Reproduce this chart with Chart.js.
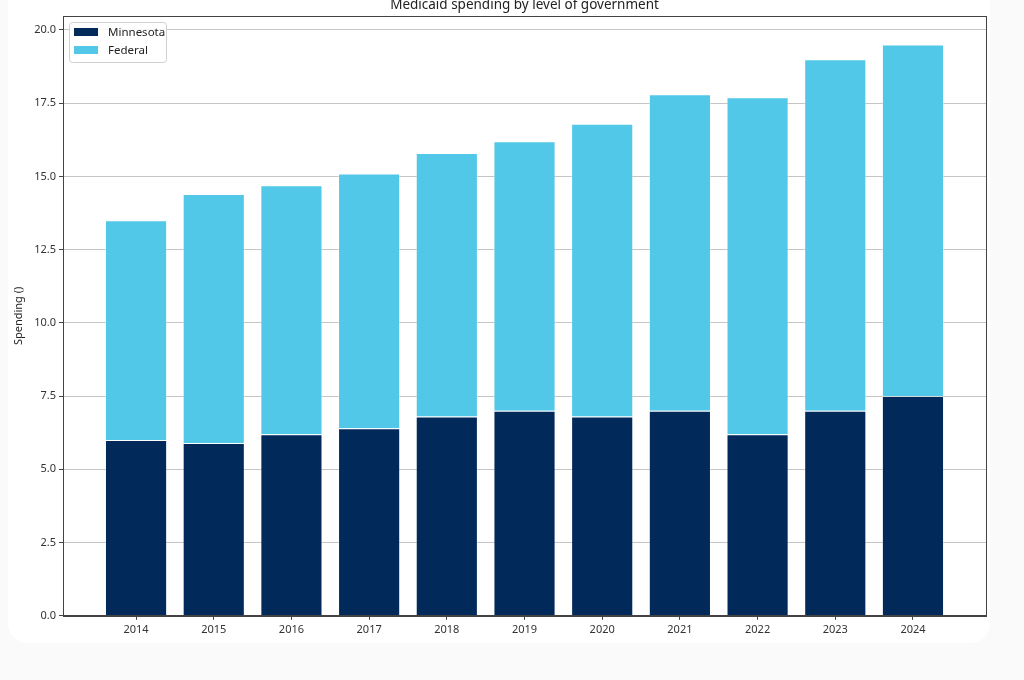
<!DOCTYPE html>
<html>
<head>
<meta charset="utf-8">
<script src="https://cdn.jsdelivr.net/npm/chart.js@4/dist/chart.umd.min.js"></script>
<style>
    html, body { margin: 0; padding: 0; background: #fafafa; overflow: hidden; }
    .card {
        position: absolute; left: 8px; top: -20px; width: 982px; height: 663px;
        background: #fff; border-radius: 20px;
    }
    .chart-box { position: absolute; left: 8px; top: 0; width: 982px; height: 643px; }
</style>
</head>
<body>
<div class="card"></div>
<div class="chart-box"><canvas id="spendingChart"></canvas></div>
<script>
const chartTitle = 'Medicaid spending by level of government';
const years = ['2014', '2015', '2016', '2017', '2018', '2019', '2020', '2021', '2022', '2023', '2024'];
const minnesotaSpending = [6.0, 5.9, 6.2, 6.4, 6.8, 7.0, 6.8, 7.0, 6.2, 7.0, 7.5];
const federalSpending = [7.5, 8.5, 8.5, 8.7, 9.0, 9.2, 10.0, 10.8, 11.5, 12.0, 12.0];
const yTicks = [0, 2.5, 5, 7.5, 10, 12.5, 15, 17.5, 20];

const fontFamily = '"Noto Sans", "DejaVu Sans", sans-serif';

// Title centred on the plot, legend inside the top-left corner and a box round the axes
const framePlugin = {
    id: 'frame',
    afterDraw(chart) {
        const ctx = chart.ctx;
        const area = chart.chartArea;

        ctx.save();
        ctx.strokeStyle = '#444';
        ctx.lineWidth = 1;
        ctx.strokeRect(Math.round(area.left) + 0.5, Math.round(area.top) + 0.5,
            Math.round(area.right - area.left), Math.round(area.bottom - area.top));

        ctx.fillStyle = '#222';
        ctx.font = '13.5px ' + fontFamily;
        ctx.textAlign = 'center';
        ctx.textBaseline = 'middle';
        ctx.fillText(chartTitle, (area.left + area.right) / 2, 5);

        // legend
        const lx = area.left + 6, ly = area.top + 6;
        ctx.fillStyle = 'rgba(255,255,255,0.85)';
        ctx.strokeStyle = '#d0d0d0';
        ctx.beginPath();
        ctx.roundRect(lx + 0.5, ly + 0.5, 97, 40, 3);
        ctx.fill();
        ctx.stroke();

        ctx.font = '11.5px ' + fontFamily;
        ctx.textAlign = 'left';
        chart.data.datasets.forEach((ds, i) => {
            const cy = ly + 10 + i * 18;
            ctx.fillStyle = ds.backgroundColor;
            ctx.fillRect(lx + 5, cy - 4, 24, 8);
            ctx.fillStyle = '#222';
            ctx.fillText(ds.label, lx + 39, cy + 1);
        });
        ctx.restore();
    }
};

const ctx = document.getElementById('spendingChart').getContext('2d');

new Chart(ctx, {
    type: 'bar',
    data: {
        datasets: [
            {
                label: 'Minnesota',
                data: minnesotaSpending.map((v, i) => ({ x: i, y: v })),
                backgroundColor: '#012a5b',
                borderColor: 'rgba(255,255,255,0.3)',
                borderWidth: 1,
                barPercentage: 0.8,
                categoryPercentage: 1.0
            },
            {
                label: 'Federal',
                data: federalSpending.map((v, i) => ({ x: i, y: v })),
                backgroundColor: '#52c8e8',
                borderColor: 'rgba(255,255,255,0.4)',
                borderWidth: 1,
                barPercentage: 0.8,
                categoryPercentage: 1.0
            }
        ]
    },
    options: {
        responsive: true,
        maintainAspectRatio: false,
        animation: false,
        layout: { padding: { top: 16, right: 4, left: 4, bottom: 4 } },
        plugins: {
            legend: { display: false },
            title: { display: false },
            tooltip: { enabled: false }
        },
        scales: {
            x: {
                type: 'linear',
                stacked: true,
                offset: false,
                min: -0.94,
                max: 10.94,
                afterBuildTicks: axis => { axis.ticks = years.map((_, i) => ({ value: i })); },
                grid: { offset: false, drawOnChartArea: false, drawTicks: true, tickLength: 4, tickColor: '#444' },
                border: { color: '#444' },
                ticks: {
                    color: '#333',
                    padding: 3,
                    maxRotation: 0,
                    font: { family: fontFamily, size: 11 },
                    callback: value => years[value] || ''
                }
            },
            y: {
                stacked: true,
                min: 0,
                max: 20.475,
                z: 1,
                afterBuildTicks: axis => { axis.ticks = yTicks.map(v => ({ value: v })); },
                grid: { color: 'rgba(150,150,150,0.55)', tickLength: 4, tickColor: '#444' },
                border: { color: '#444' },
                title: {
                    display: true,
                    text: 'Spending ()',
                    color: '#222',
                    padding: { top: 0, bottom: 6 },
                    font: { family: fontFamily, size: 11 }
                },
                ticks: {
                    color: '#333',
                    padding: 3,
                    font: { family: fontFamily, size: 11 },
                    callback: value => value.toFixed(1)
                }
            }
        }
    },
    plugins: [framePlugin]
});
</script>
</body>
</html>
